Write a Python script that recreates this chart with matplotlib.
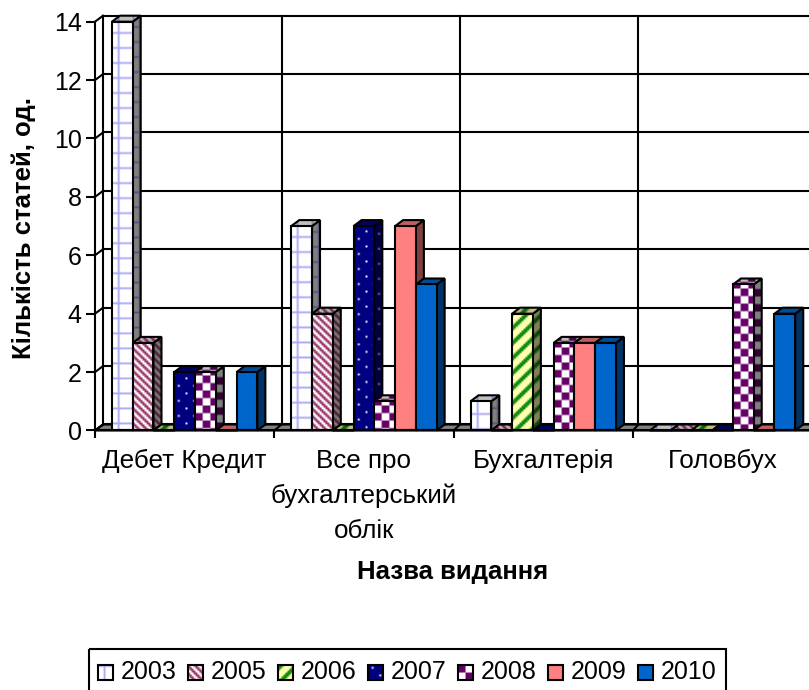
import numpy as np
import matplotlib
matplotlib.use('Agg')
import matplotlib.pyplot as plt
from matplotlib.patches import Polygon, Rectangle

plt.rcParams['font.family'] = ['Liberation Sans', 'DejaVu Sans']

# Дані
categories = ['Дебет Кредит', 'Все про\nбухгалтерський\nоблік', 'Бухгалтерія', 'Головбух']
years = ['2003', '2005', '2006', '2007', '2008', '2009', '2010']
v2003 = [14, 7, 1, 0]
v2005 = [3, 4, 0, 0]
v2006 = [0, 0, 4, 0]
v2007 = [2, 7, 0, 0]
v2008 = [2, 1, 3, 5]
v2009 = [0, 7, 3, 0]
v2010 = [2, 5, 3, 4]
series = [v2003, v2005, v2006, v2007, v2008, v2009, v2010]

W, H = 809, 690
X0, CAT_W = 95.0, 179.3      # пікселі: початок осі і ширина категорії
Y0, UNIT = 430.5, 29.2       # пікселі: нуль і одиниця значення
DX, DY = 8 / CAT_W, 6 / UNIT # глибина 3D у одиницях даних
WALL = 178.5 / 179.3         # задня стінка трохи вужча
GAP = 0.0945
BAR_W = (1 - 2 * GAP) / 7
CELL = 1.875                 # розмір клітинки візерунка, пікселі
LINE = 1.5


def rgb(c):
    return np.array(matplotlib.colors.to_rgb(c))


def tile(mask, fg, bg='#FFFFFF'):
    return np.where(mask[..., None], rgb(fg), rgb(bg))


i, j = np.mgrid[0:8, 0:8]
TILES = [
    tile((i == 0) | (j == 3), '#AAAAF5'),
    tile((i - j) % 4 < 2, '#993366'),
    tile((i + j) % 8 < 3, '#108A10', '#FFFFB0'),
    tile(((i == 1) & (j == 2)) | ((i == 5) & (j == 6)), '#FFFFFF', '#000080'),
    tile((i // 4 + j // 4) % 2 == 0, '#660066'),
    tile(i >= 0, '#FF8080'),
    tile(i >= 0, '#0066CC'),
]


def fill(ax, verts, pattern, cell_x, cell_y, shade=1.0):
    verts = np.array(verts)
    x1, y1 = verts.min(axis=0)
    x2, y2 = verts.max(axis=0)
    nx = int(np.ceil(abs(x2 - x1) / cell_x)) + 1
    ny = int(np.ceil(abs(y2 - y1) / cell_y)) + 1
    img = np.tile(pattern, (ny // 8 + 1, nx // 8 + 1, 1))[:ny, :nx] * shade
    y_end = y1 + ny * cell_y
    # у легенди вісь y перевернута, тому межі міняються місцями
    ext = (y_end, y1) if ax.yaxis_inverted() else (y1, y_end)
    im = ax.imshow(img, extent=(x1, x1 + nx * cell_x) + ext, aspect='auto',
                   interpolation='bilinear', zorder=3, origin='upper')
    poly = Polygon(verts, transform=ax.transData, fc='none', ec='none')
    im.set_clip_path(poly)
    im.set_clip_box(ax.figure.bbox)
    ax.add_patch(Polygon(verts, fc='none', ec='black', lw=LINE, zorder=3, clip_on=False,
                         joinstyle='miter'))


fig = plt.figure(figsize=(W / 100, H / 100), dpi=100, facecolor='white')
ax = fig.add_axes([X0 / W, 1 - Y0 / H, CAT_W * 4 / W, UNIT * 14 / H])
ax.set_xlim(0, 4)
ax.set_ylim(0, 14)
ax.autoscale(False)
ax.patch.set_visible(False)

# Підлога
ax.add_patch(Polygon([(0, 0), (DX, DY), (4 + DX, DY), (4, 0)], fc='#808080', ec='black',
                     lw=LINE, clip_on=False, zorder=1))

# Сітка на стінках
for v in range(0, 15, 2):
    ax.plot([DX, 4 + DX], [v + DY, v + DY], color='black', lw=LINE, zorder=2, clip_on=False)
    ax.plot([0, DX], [v, v + DY], color='black', lw=LINE, zorder=2, clip_on=False)
for c in range(0, 5):
    bx = DX + c * WALL
    ax.plot([bx, bx], [DY, 14 + DY], color='black', lw=LINE, zorder=2, clip_on=False)
    ax.plot([c, bx], [0, DY], color='black', lw=LINE, zorder=2, clip_on=False)

# Стовпчики
cx, cy = CELL / CAT_W, CELL / UNIT
for c in range(len(categories)):
    for s, vals in enumerate(series):
        v = vals[c]
        x = c + GAP + s * BAR_W
        fill(ax, [(x + BAR_W, 0), (x + BAR_W + DX, DY), (x + BAR_W + DX, v + DY), (x + BAR_W, v)],
             TILES[s], cx, cy, 0.5)
        fill(ax, [(x, v), (x + DX, v + DY), (x + BAR_W + DX, v + DY), (x + BAR_W, v)],
             TILES[s], cx, cy, 0.75)
        if v > 0:
            fill(ax, [(x, 0), (x, v), (x + BAR_W, v), (x + BAR_W, 0)], TILES[s], cx, cy)

# Осі
for side in ('top', 'right'):
    ax.spines[side].set_visible(False)
for side in ('left', 'bottom'):
    ax.spines[side].set_linewidth(LINE)
    ax.spines[side].set_zorder(4)
ax.set_yticks(range(0, 15, 2))
ax.set_xticks(range(0, 5))
ax.set_xticks(np.arange(4) + 0.5, categories, minor=True, multialignment='center', linespacing=1.55)
ax.tick_params(axis='x', which='major', labelbottom=False, length=6, width=LINE)
ax.tick_params(axis='x', which='minor', length=0, pad=13.5, labelsize=18.7)
ax.tick_params(axis='y', length=6.5, width=LINE, pad=3, labelsize=18)

fig.text(453 / W, 1 - 572 / H, 'Назва видання', ha='center', va='center',
         fontsize=18.5, fontweight='bold')
fig.text(24 / W, 1 - 228 / H, 'Кількість статей, од.', ha='center', va='center',
         rotation=90, fontsize=18.5, fontweight='bold')

# Легенда
lg = fig.add_axes([0, 0, 1, 1])
lg.set_xlim(0, W)
lg.set_ylim(H, 0)
lg.autoscale(False)
lg.axis('off')
lg.patch.set_visible(False)
lg.add_patch(Rectangle((89, 649), 637, 60, fc='none', ec='black', lw=LINE))
for s, year in enumerate(years):
    sx = 98.5 + s * 90
    fill(lg, [(sx, 665), (sx, 679.5), (sx + 14.5, 679.5), (sx + 14.5, 665)], TILES[s], CELL, CELL)
    lg.text(sx + 22, 672, year, ha='left', va='center', fontsize=18)

fig.savefig('out.png', dpi=100, facecolor='white')
